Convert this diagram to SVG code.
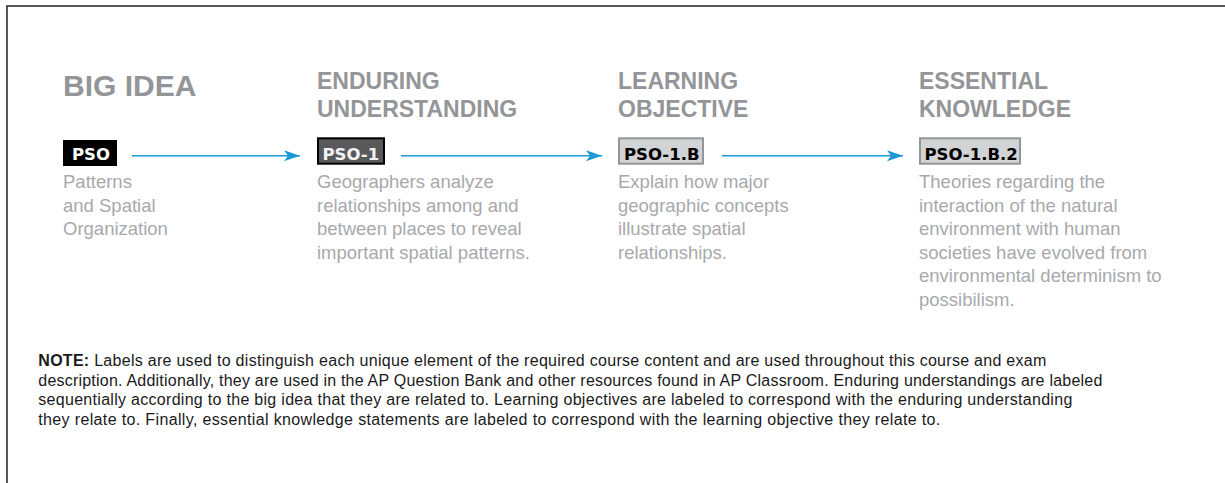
<svg xmlns="http://www.w3.org/2000/svg" width="1225" height="483" viewBox="0 0 1225 483">
  <style>
    .head { font-family: "Liberation Sans", Arial, sans-serif; font-weight: bold; fill: #939598; }
    .h1 { font-size: 30px; }
    .h2 { font-size: 23px; }
    .body { font-family: "Liberation Sans", Arial, sans-serif; font-size: 18.5px; fill: #a7a9ac; }
    .tag { font-family: "DejaVu Sans", sans-serif; font-weight: bold; font-size: 16.5px; }
    .note { font-family: "Liberation Sans", Arial, sans-serif; font-size: 16px; fill: #1a1a1a; }
    .conn { stroke: #1b9ad6; stroke-width: 1.5; fill: none; }
  </style>
  <defs>
    <marker id="arrow" markerUnits="userSpaceOnUse" markerWidth="17" markerHeight="12" refX="16" refY="5.5" orient="auto">
      <path d="M0,0 L16,5.5 L0,11 L4,5.5 Z" fill="#1b9ad6"/>
    </marker>
  </defs>
  <rect width="1225" height="483" fill="#ffffff"/>
  <path d="M7,483 L7,6 L1225,6" fill="none" stroke="#231f20" stroke-width="1.5"/>

  <g id="big-idea">
    <text class="head h1" x="63" y="96">BIG IDEA</text>
    <rect x="63" y="140" width="54" height="26" fill="#000000"/>
    <text class="tag" x="72" y="159.5" fill="#ffffff">PSO</text>
    <text class="body" x="63" y="188.3">Patterns</text>
    <text class="body" x="63" y="211.8">and Spatial</text>
    <text class="body" x="63" y="235.3">Organization</text>
  </g>

  <g id="enduring-understanding">
    <text class="head h2" x="317" y="89.3">ENDURING</text>
    <text class="head h2" x="317" y="117.3">UNDERSTANDING</text>
    <rect x="318" y="138.3" width="66" height="25.4" fill="#58595b" stroke="#000000" stroke-width="2"/>
    <text class="tag" x="322.5" y="159.5" fill="#f1f1f2">PSO-1</text>
    <text class="body" x="317" y="188.3">Geographers analyze</text>
    <text class="body" x="317" y="211.8">relationships among and</text>
    <text class="body" x="317" y="235.3">between places to reveal</text>
    <text class="body" x="317" y="258.8">important spatial patterns.</text>
  </g>

  <g id="learning-objective">
    <text class="head h2" x="618" y="89.3">LEARNING</text>
    <text class="head h2" x="618" y="117.3">OBJECTIVE</text>
    <rect x="619" y="138.3" width="84" height="25.4" fill="#d1d3d4" stroke="#939598" stroke-width="2"/>
    <text class="tag" x="624" y="159.5" fill="#000000">PSO-1.B</text>
    <text class="body" x="618" y="188.3">Explain how major</text>
    <text class="body" x="618" y="211.8">geographic concepts</text>
    <text class="body" x="618" y="235.3">illustrate spatial</text>
    <text class="body" x="618" y="258.8">relationships.</text>
  </g>

  <g id="essential-knowledge">
    <text class="head h2" x="919" y="89.3">ESSENTIAL</text>
    <text class="head h2" x="919" y="117.3">KNOWLEDGE</text>
    <rect x="920" y="138.3" width="100" height="25.4" fill="#d1d3d4" stroke="#939598" stroke-width="2"/>
    <text class="tag" x="924.5" y="159.5" fill="#000000">PSO-1.B.2</text>
    <text class="body" x="919" y="188.3">Theories regarding the</text>
    <text class="body" x="919" y="211.8">interaction of the natural</text>
    <text class="body" x="919" y="235.3">environment with human</text>
    <text class="body" x="919" y="258.8">societies have evolved from</text>
    <text class="body" x="919" y="282.3">environmental determinism to</text>
    <text class="body" x="919" y="305.8">possibilism.</text>
  </g>

  <g id="connectors">
    <line class="conn" x1="132" y1="155.7" x2="300" y2="155.7" marker-end="url(#arrow)"/>
    <line class="conn" x1="401" y1="155.7" x2="602" y2="155.7" marker-end="url(#arrow)"/>
    <line class="conn" x1="722" y1="155.7" x2="903" y2="155.7" marker-end="url(#arrow)"/>
  </g>

  <g id="note">
    <text class="note" x="38.3" y="366" textLength="1008" lengthAdjust="spacing"><tspan font-weight="bold">NOTE:</tspan> Labels are used to distinguish each unique element of the required course content and are used throughout this course and exam</text>
    <text class="note" x="38.3" y="385.5" textLength="1064" lengthAdjust="spacing">description. Additionally, they are used in the AP Question Bank and other resources found in AP Classroom. Enduring understandings are labeled</text>
    <text class="note" x="38.3" y="405" textLength="1034" lengthAdjust="spacing">sequentially according to the big idea that they are related to. Learning objectives are labeled to correspond with the enduring understanding</text>
    <text class="note" x="38.3" y="424.5" textLength="902" lengthAdjust="spacing">they relate to. Finally, essential knowledge statements are labeled to correspond with the learning objective they relate to.</text>
  </g>
</svg>
